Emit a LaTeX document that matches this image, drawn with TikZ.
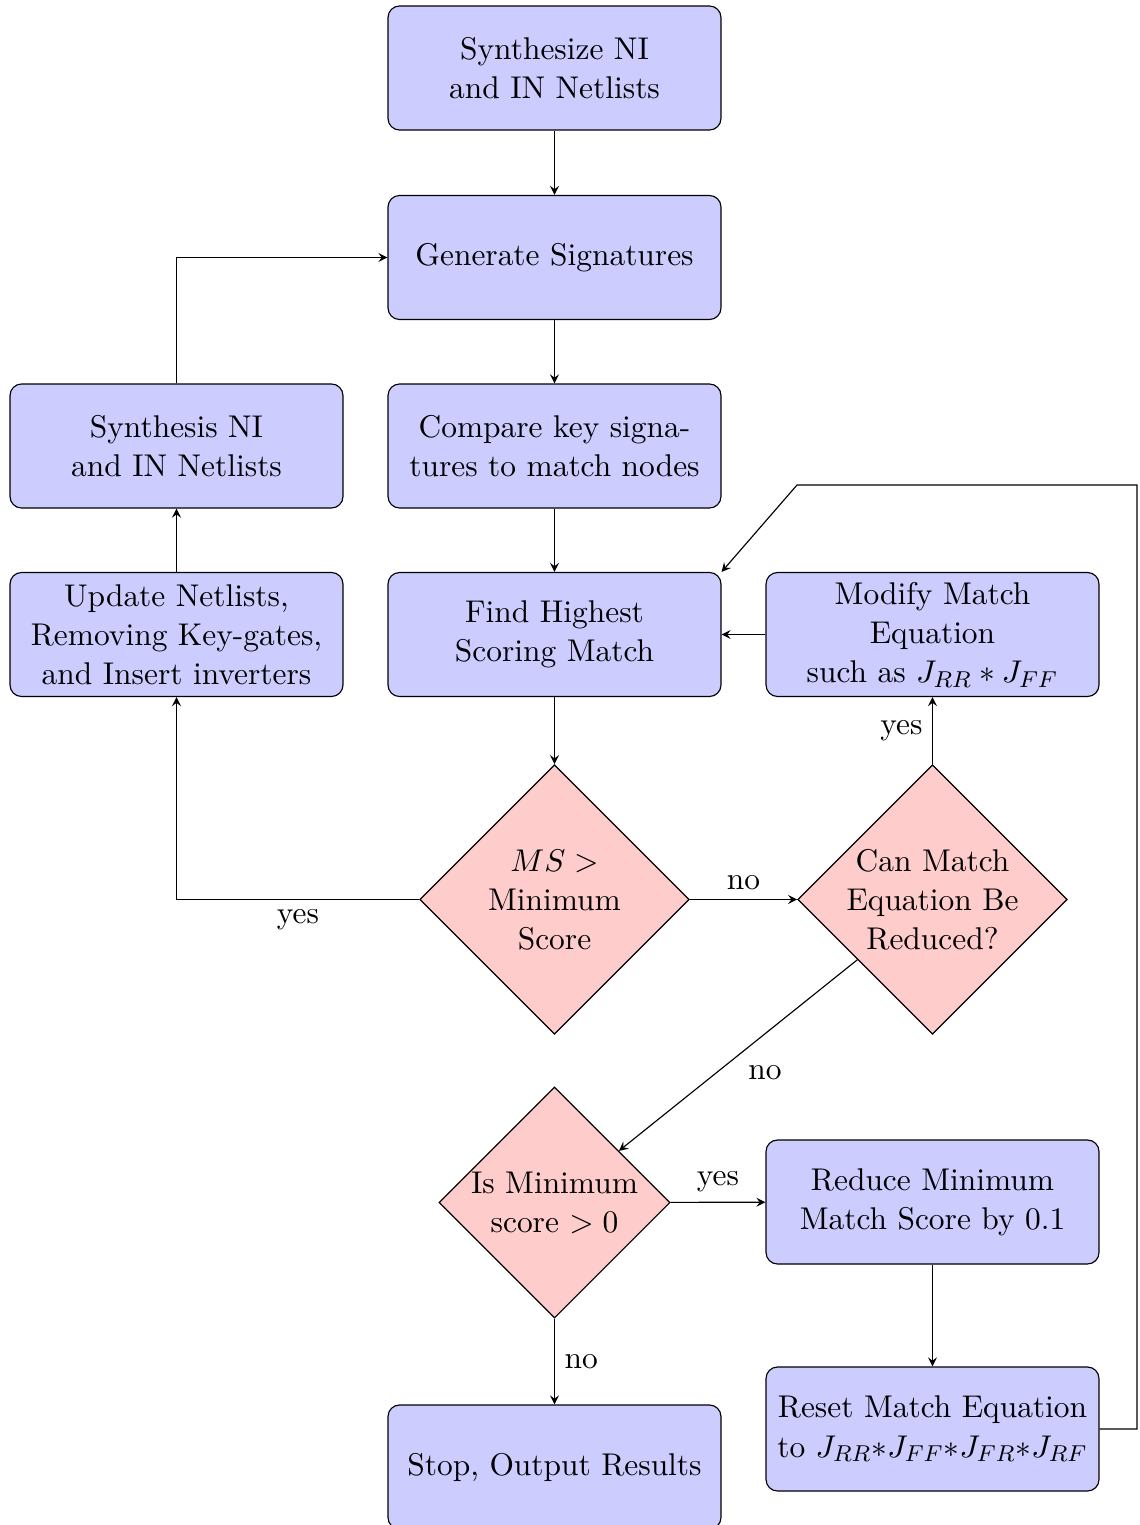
\documentclass[tikz,border=0pt]{standalone}
\usetikzlibrary{shapes.geometric,arrows}
% several centred lines that take no width, so a diamond keeps its set size;
% the ink is lowered a little to sit in the middle of the diamond
\newcommand\dlines[1]{\makebox[0pt]{\raisebox{-1pt}[\height][\depth]{\begin{tabular}{@{}c@{}}#1\end{tabular}}}}
\begin{document}
\begin{tikzpicture}[x=0.3484pt,y=-0.3484pt,
  font=\fontsize{10.95}{13.6}\selectfont,
  block/.style={rectangle, draw, fill=blue!20, rounded corners,
    minimum width=116pt, minimum height=43.2pt, align=center, inner sep=2pt},
  decision/.style={diamond, draw, fill=red!20, aspect=1, inner sep=0pt,
    minimum width=93.9pt, minimum height=93.9pt},
  smalldecision/.style={decision, minimum width=80.5pt, minimum height=80.5pt},
  line/.style={draw, -stealth}]
\useasboundingbox (0,0) rectangle (1139,1525);

% process boxes and decisions
\node[block] (syn) at (554.5,68) {Synthesize NI\\and IN Netlists};
\node[block] (gen) at (554.5,257.5) {Generate Signatures};
\node[block] (cmp) at (554.5,446) {Compare key signa-\\tures to match nodes};
\node[block] (resyn) at (176.5,446) {Synthesis NI\\and IN Netlists};
\node[block] (upd) at (176.5,634.5) {Update Netlists,\\Removing Key-gates,\\and Insert inverters};
\node[block] (find) at (554.5,634.5) {Find Highest\\Scoring Match};
\node[block] (mod) at (932.5,634.5) {Modify Match\\Equation\\such as $J_{RR} * J_{FF}$};
\node[decision] (ms) at (554.5,899.5) {\dlines{$MS >$\\Minimum\\Score}};
\node[decision] (red) at (932.5,899.5) {\dlines{Can Match\\Equation Be\\Reduced?}};
\node[smalldecision] (zero) at (554.5,1202.5) {\dlines{Is Minimum\\score $> 0$}};
\node[block] (dec) at (932.5,1202) {Reduce Minimum\\Match Score by 0.1};
\node[block] (reset) at (932.5,1429) {Reset Match Equation\\to $J_{RR}{*}J_{FF}{*}J_{FR}{*}J_{RF}$};
\node[block] (stop) at (554.5,1467) {Stop, Output Results};

% corners of the feedback loop on the right
\coordinate (loopR) at (1137,485);
\coordinate (loopL) at (797,485);

% connectors
\draw[line] (syn) -- (gen);
\draw[line] (gen) -- (cmp);
\draw[line] (cmp) -- (find);
\draw[line] (find) -- (ms);
\draw[line] (ms) -- node[below]{yes} (ms.west -| upd.south) -- (upd);
\draw[line] (upd) -- (resyn);
\draw[line] (resyn) |- (gen);
\draw[line] (ms) -- node[above]{no} (red);
\draw[line] (red) -- node[left]{yes} (mod);
\draw[line] (mod) -- (find);
\draw[line] (red) -- node[below right]{no} (zero);
\draw[line] (zero) -- node[above]{yes} (dec);
\draw[line] (zero) -- node[right]{no} (stop);
\draw[line] (dec) -- (reset);
\draw[line] (reset) -| (loopR) -- (loopL) -- (find.north east);
\end{tikzpicture}
\end{document}
